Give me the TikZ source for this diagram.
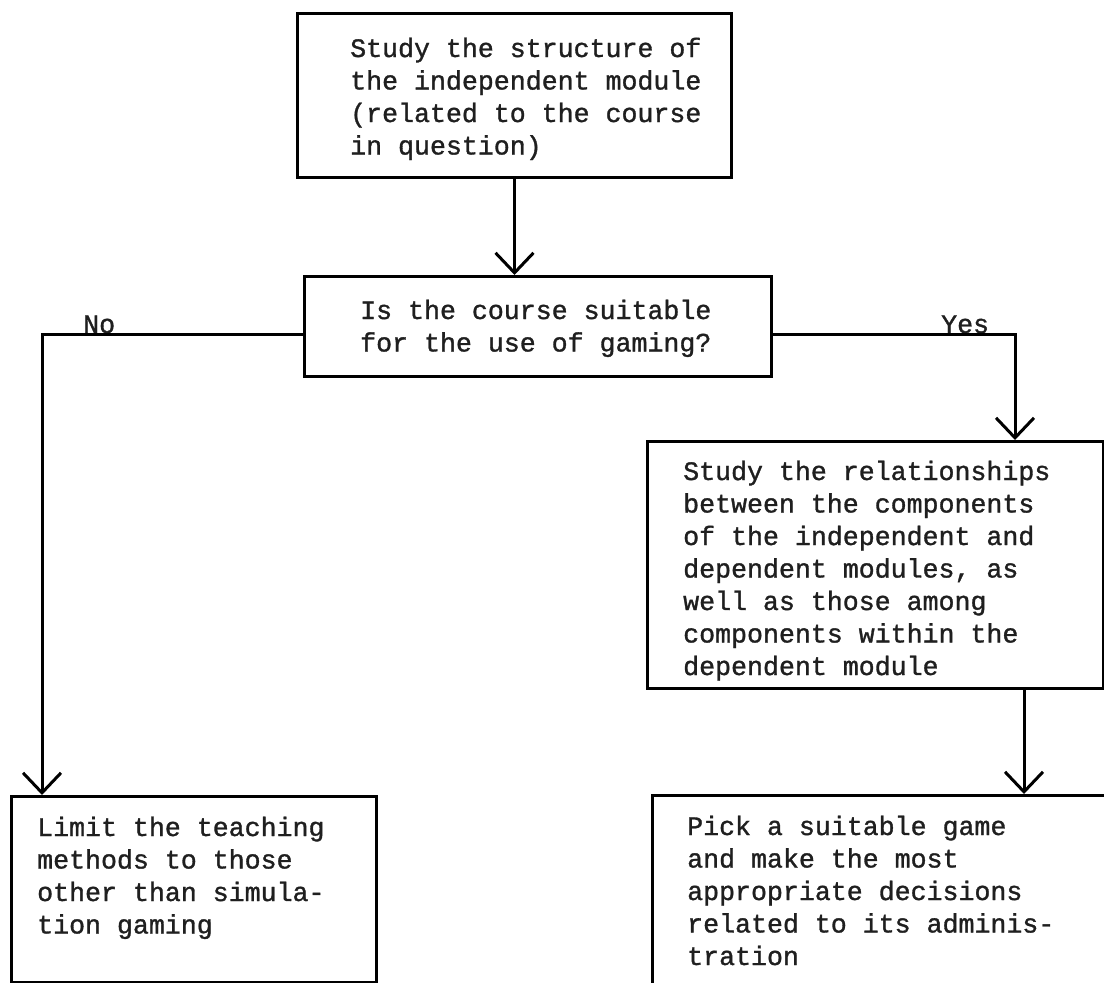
\documentclass[tikz,border=0pt]{standalone}
\usepackage{fontspec}
\setmonofont[FakeBold=1.2]{Liberation Mono}
\usetikzlibrary{arrows.meta}
\begin{document}
\begin{tikzpicture}[x=1pt,y=-1pt,
  box/.style={draw, line width=3pt, inner sep=0pt, anchor=north west},
  txt/.style={inner sep=0pt, anchor=base west, font=\ttfamily\fontsize{26.6}{32.5}\selectfont, text=black!88},
  arr/.style={line width=3pt, -{Straight Barb[length=20pt,width=38pt]}}]
\useasboundingbox (0,0) rectangle (1104,983);
\clip (0,0) rectangle (1104,983);
% boxes
\node[box, minimum width=434pt, minimum height=164pt] (b1) at (296,12) {};
\node[box, minimum width=467pt, minimum height=100pt] (b2) at (303,275) {};
\node[box, minimum width=365pt, minimum height=186pt] (b3) at (10,795) {};
\node[box, minimum width=456pt, minimum height=247pt] (b4) at (646,440) {};
\node[box, minimum width=470pt, minimum height=220pt] (b5) at (651,794) {};
% texts
\node[txt] (b1t) at (350,57) {\parbox[t]{400pt}{Study the structure of\\the independent module\\(related to the course\\in question)}};
\node[txt] (b2t) at (360,319) {\parbox[t]{400pt}{Is the course suitable\\for the use of gaming?}};
\node[txt] (b3t) at (37,836) {\parbox[t]{330pt}{Limit the teaching\\methods to those\\other than simula-\\tion gaming}};
\node[txt] (b4t) at (683,480) {\parbox[t]{410pt}{Study the relationships\\between the components\\of the independent and\\dependent modules, as\\well as those among\\components within the\\dependent module}};
\node[txt] (b5t) at (687,835) {\parbox[t]{410pt}{Pick a suitable game\\and make the most\\appropriate decisions\\related to its adminis-\\tration}};
% labels
\node[txt] (lno) at (83,333) {No};
\node[txt] (lyes) at (941,333) {Yes};
% connectors
\coordinate (nocorner) at (42,334);
\coordinate (yescorner) at (1015,334);
\coordinate (downx) at (1024,0);
\draw[arr] (b1.south) -- (b1.south |- b2.north);
\draw[arr] (b2.west |- nocorner) -- (nocorner) -- (nocorner |- b3.north);
\draw[arr] (b2.east |- yescorner) -- (yescorner) -- (yescorner |- b4.north);
\draw[arr] (downx |- b4.south) -- (downx |- b5.north);
\end{tikzpicture}
\end{document}
